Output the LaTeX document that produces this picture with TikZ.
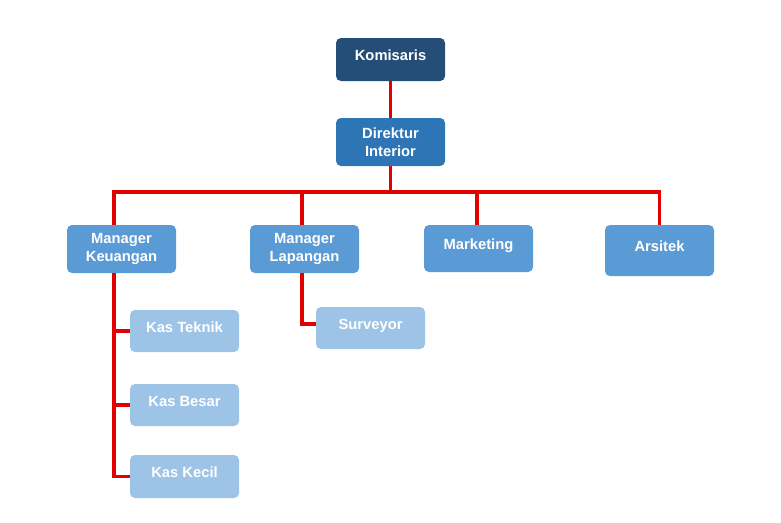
\documentclass[tikz,border=0pt]{standalone}
\usepackage{fontspec}
\setmainfont{Liberation Sans}
\definecolor{topblue}{RGB}{36,78,120}
\definecolor{dirblue}{RGB}{46,117,182}
\definecolor{midblue}{RGB}{91,155,213}
\definecolor{lowblue}{RGB}{157,195,230}
\definecolor{linkred}{RGB}{226,0,0}
\begin{document}
\begin{tikzpicture}[box node/.style={rounded corners=3.5pt, font=\fontsize{10.5}{12.8}\selectfont\bfseries, text=white, align=center, minimum width=2.725cm, inner sep=2pt},one line/.style={text height=8pt, text depth=6.5pt},top node/.style={box node, one line, fill=topblue, minimum height=1.075cm},dir node/.style={box node, fill=dirblue, minimum height=1.2cm},mid node/.style={box node, fill=midblue, minimum height=1.2cm},low node/.style={box node, one line, fill=lowblue, minimum height=1.05cm},link/.style={linkred, line width=2.6pt}]%
\path[use as bounding box] (0,0) rectangle (19.525,-13.05);%
  % Top%
\node[top node] (kom) at (9.763,-1.488) {Komisaris};%
\node[dir node] (dir) at (9.763,-3.55) {Direktur\\ Interior};%
  % Managers%
\node[mid node] (mk) at (3.038,-6.225) {Manager\\ Keuangan};%
\node[mid node] (ml) at (7.613,-6.225) {Manager\\ Lapangan};%
\node[mid node, one line, minimum height=1.175cm] (mkt) at (11.963,-6.213) {Marketing};%
\node[mid node, one line, minimum height=1.275cm] (ars) at (16.488,-6.263) {Arsitek};%
  % Staff%
\node[low node] (kt) at (4.613,-8.275) {Kas Teknik};%
\node[low node] (kb) at (4.613,-10.125) {Kas Besar};%
\node[low node, minimum height=1.075cm] (kk) at (4.613,-11.913) {Kas Kecil};%
\node[low node] (sv) at (9.263,-8.2) {Surveyor};%
  % Links%
\coordinate (bus) at (9.763,-4.8);%
\draw[link] (kom) -- (dir);%
\draw[link] (dir.south) -- (bus);%
\draw[link] (bus) -| ([xshift=-0.188cm]mk.north);%
\draw[link] (bus) -| ([xshift=-0.063cm]ml.north);%
\draw[link] (bus) -| ([xshift=-0.038cm]mkt.north);%
\draw[link] (bus) -| (ars.north);%
\draw[link] ([xshift=-0.188cm]mk.south) |- (kk.west);%
\draw[link] ([xshift=-0.188cm]mk.south) |- (kb.west);%
\draw[link] ([xshift=-0.188cm]mk.south) |- (kt.west);%
\draw[link] ([xshift=-0.063cm]ml.south) |- ([yshift=0.1cm]sv.west);%
\end{tikzpicture}
\end{document}
